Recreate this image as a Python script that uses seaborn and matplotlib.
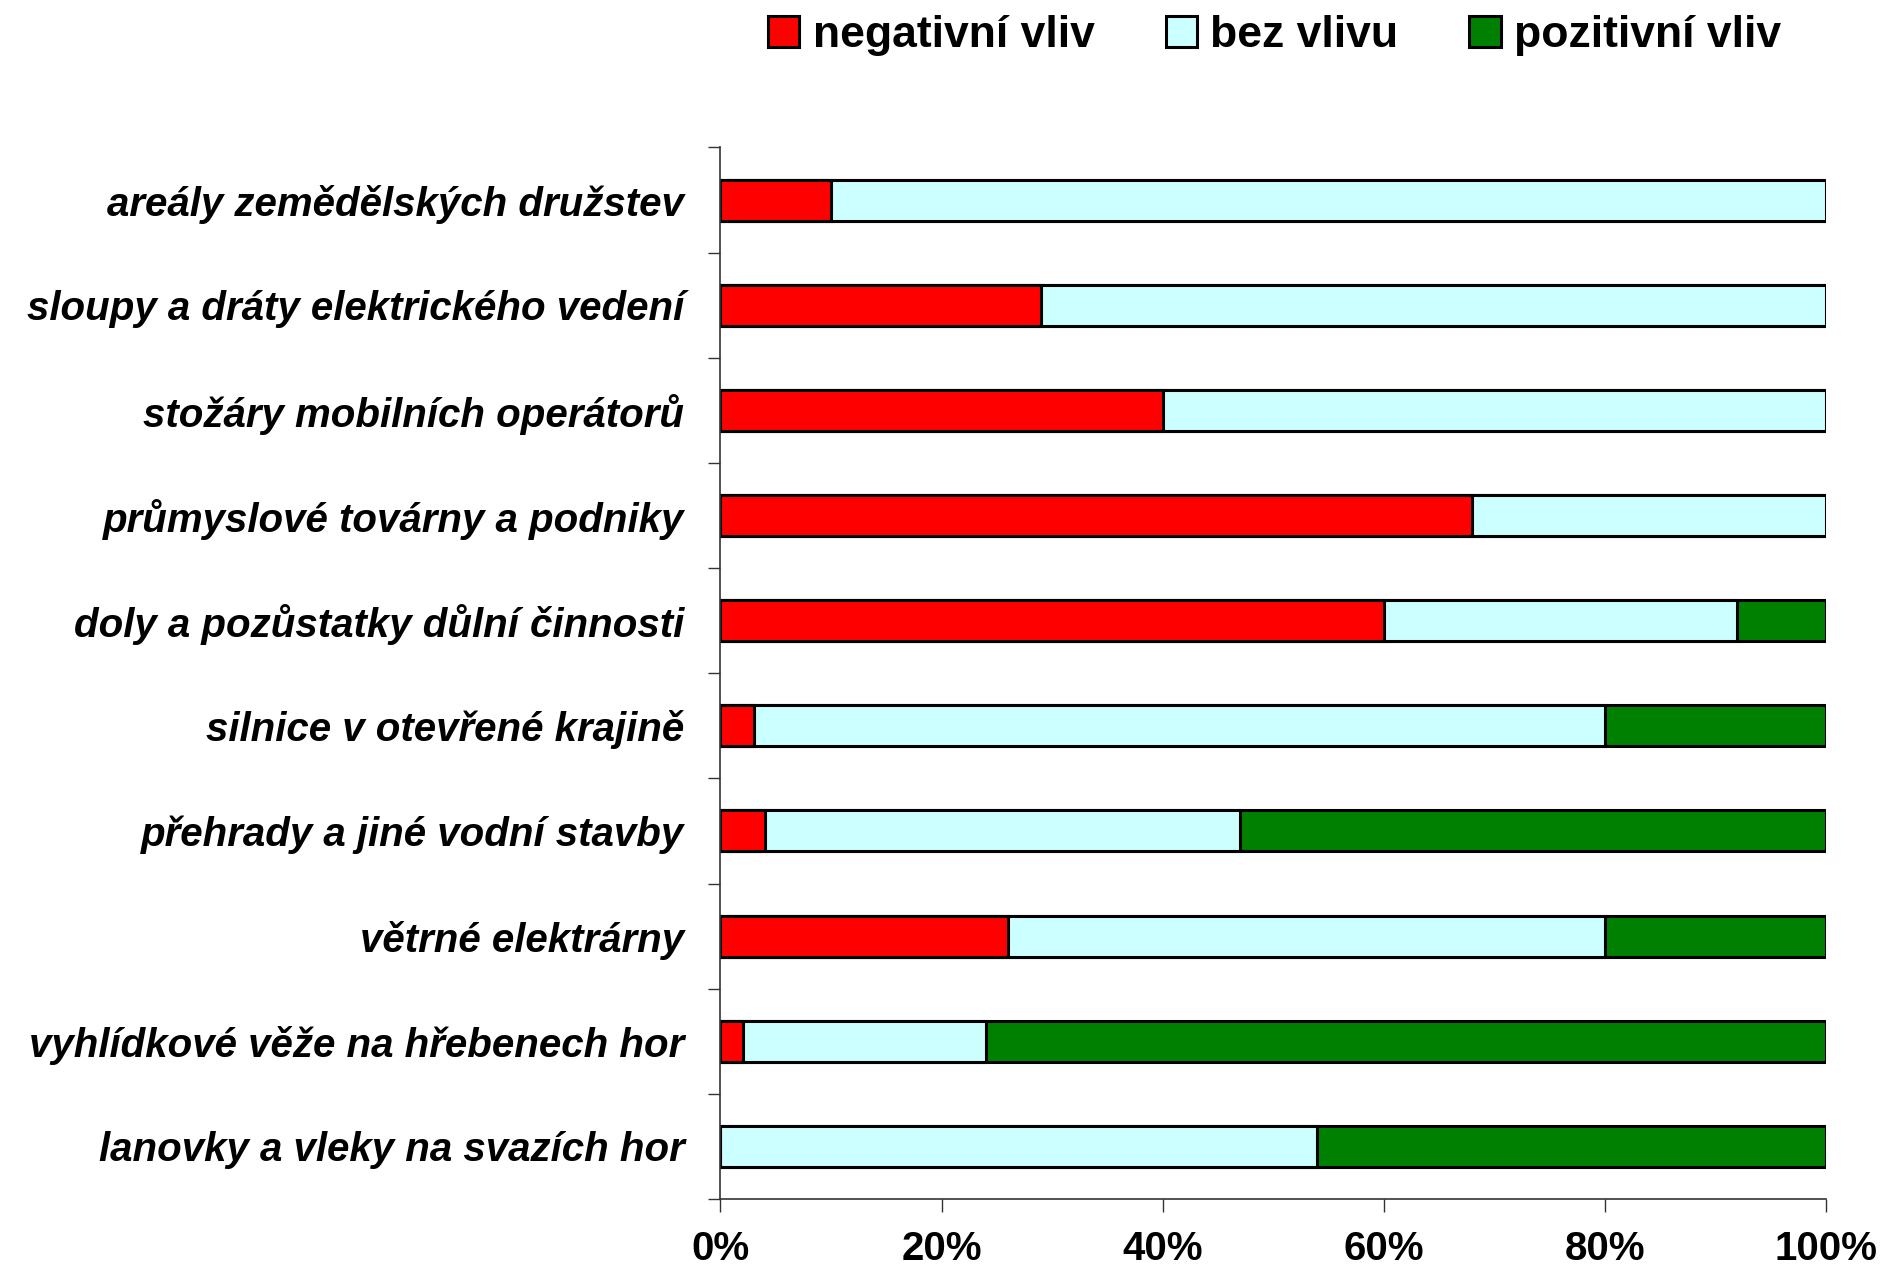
import numpy as np
import matplotlib
matplotlib.use('Agg')
import matplotlib.pyplot as plt
import seaborn as sns

categories = [
    'areály zemědělských družstev',
    'sloupy a dráty elektrického vedení',
    'stožáry mobilních operátorů',
    'průmyslové továrny a podniky',
    'doly a pozůstatky důlní činnosti',
    'silnice v otevřené krajině',
    'přehrady a jiné vodní stavby',
    'větrné elektrárny',
    'vyhlídkové věže na hřebenech hor',
    'lanovky a vleky na svazích hor',
]
negativni = [10, 29, 40, 68, 60, 3, 4, 26, 2, 0]
bez_vlivu = [90, 71, 60, 32, 32, 77, 43, 54, 22, 54]
pozitivni = [0, 0, 0, 0, 8, 20, 53, 20, 76, 46]

series_names = ['negativní vliv', 'bez vlivu', 'pozitivní vliv']
colors = ['#FF0000', '#CCFFFF', '#008000']

sns.set_style('white')
plt.rcParams['font.family'] = ['Liberation Sans', 'DejaVu Sans']
plt.rcParams['text.color'] = 'black'
plt.rcParams['xtick.color'] = 'black'
plt.rcParams['ytick.color'] = 'black'

neg = np.array(negativni)
bez = np.array(bez_vlivu)
poz = np.array(pozitivni)
# cumulative ends, drawn back to front so the bars stack
ends = [neg, neg + bez, neg + bez + poz]

fig = plt.figure(figsize=(18.8, 12.69), dpi=100)
ax = fig.add_axes([0.3832, 0.0552, 0.588, 0.8286])

for i in [2, 1, 0]:
    sns.barplot(x=ends[i], y=categories, orient='h', color=colors[i],
                saturation=1, edgecolor='black', linewidth=2.2, width=0.39,
                label=series_names[i], ax=ax)

ax.set_xlim(0, 100)
ax.set_ylim(9.5, -0.5)
ax.set_xticks(np.arange(0, 101, 20))
ax.set_xticklabels([f'{v}%' for v in range(0, 101, 20)],
                   fontsize=29, fontweight='bold')
ax.tick_params(axis='x', direction='out', length=9, width=1, pad=13,
               color='#333333', labelcolor='black', bottom=True)

ax.set_yticks(range(len(categories)))
ax.set_yticklabels(categories, fontsize=29, fontweight='bold', style='italic',
                   color='black')
ax.tick_params(axis='y', which='major', length=0, pad=26, left=False)
ax.set_yticks(np.arange(-0.5, len(categories), 1), minor=True)
ax.tick_params(axis='y', which='minor', direction='out', length=9, width=1,
               color='#333333', left=True)
ax.set_xlabel('')
ax.set_ylabel('')

for side in ['top', 'right']:
    ax.spines[side].set_visible(False)
for side in ['left', 'bottom']:
    ax.spines[side].set_color('#333333')
    ax.spines[side].set_linewidth(1.2)

handles, labels = ax.get_legend_handles_labels()
if ax.get_legend() is not None:
    ax.get_legend().remove()
order = [labels.index(n) for n in series_names]
fig.legend([handles[k] for k in order], [labels[k] for k in order],
           loc='center', bbox_to_anchor=(0.678, 0.972), ncol=3, frameon=False,
           prop={'size': 32, 'weight': 'bold'}, handlelength=0.7,
           handleheight=0.7, handletextpad=0.3, columnspacing=1.6)

fig.savefig('out.png', dpi=100)
